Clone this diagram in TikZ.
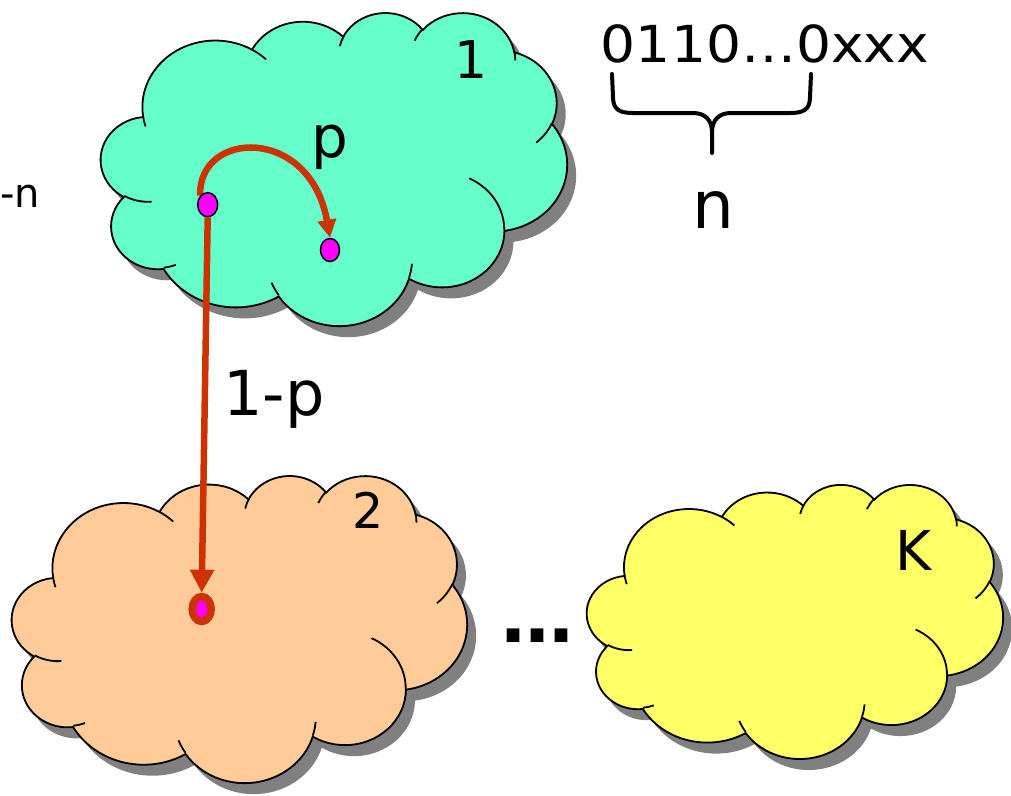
\documentclass[tikz,border=0pt]{standalone}
\usepackage{fontspec}
\setmainfont{DejaVu Sans}
\usetikzlibrary{arrows.meta, shapes.geometric}
\definecolor{cloudA}{HTML}{66FFCC}
\definecolor{cloudB}{HTML}{FFCC99}
\definecolor{cloudC}{HTML}{FFFF66}
\definecolor{shadowc}{HTML}{808080}
\definecolor{arrowc}{HTML}{CC3300}
\definecolor{magentac}{HTML}{FF00FF}
\pgfdeclarelayer{cloudlayer}
\pgfdeclarelayer{arrowlayer}
\pgfsetlayers{cloudlayer,arrowlayer,main}
\newcommand\cloudoutline{(39.00,143.70) arc(-187.75:-59.64:67.53 and 91.90) arc(-152.02:-45.45:53.33 and 72.67) arc(-153.48:-37.33:43.65 and 59.45) arc(-139.69:-10.21:48.57 and 65.95) arc(-74.77:23.21:53.33 and 72.73) arc(-37.52:81.86:67.75 and 92.20) arc(0.46:121.98:57.85 and 78.67) arc(16.85:146.24:67.52 and 92.15) arc(58.99:150.20:77.20 and 105.43) arc(-276.69:-136.90:43.60 and 59.18) arc(-239.64:-95.89:43.45 and 59.45) -- cycle}
\newcommand\cloudstrokes{(46.93,261.77) arc(85.55:120.36:43.45 and 59.45) (69.28,348.99) arc(68.24:83.31:43.60 and 59.18) (164.78,390.90) arc(146.24:158.47:67.52 and 92.15) (288.27,347.51) arc(4.74:16.85:67.52 and 92.15) (341.29,229.54) arc(-64.03:0.46:57.85 and 78.67) (417.98,153.54) arc(23.21:49.63:53.33 and 72.73) (383.24,54.26) arc(-10.21:0.82:48.57 and 65.95) (290.78,39.52) arc(-156.28:-139.69:48.57 and 65.95) (221.41,47.20) arc(-167.73:-153.48:43.65 and 59.45) (140.00,51.92) arc(-59.64:-45.74:67.53 and 91.90) (41.27,157.89) arc(163.19:172.25:67.53 and 91.90)}
\newcommand\drawcloud[5]{%
  \begin{scope}[shift={(#1,#2)}, x=#3pt, y=-#4pt]
    \fill[shadowc, xshift=9pt, yshift=-11pt] \cloudoutline;
    \filldraw[fill=#5, cloudline] \cloudoutline;
    \draw[cloudline] \cloudstrokes;
  \end{scope}}
\begin{document}
\begin{tikzpicture}[x=1pt, y=-1pt,
  cloudline/.style={draw=black, line width=1.8pt},
  lbl/.style={inner sep=0pt, outer sep=0pt, anchor=base},
  dotstyle/.style={ellipse, draw=black, fill=magentac, line width=1.5pt, inner sep=0pt},
  flow/.style={draw=arrowc, line width=6.5pt}]
\useasboundingbox (0,0) rectangle (1011,795);
\begin{pgfonlayer}{cloudlayer}
  \drawcloud{101}{12}{1.07870}{0.72454}{cloudA}
  \drawcloud{12}{475}{1.05324}{0.71065}{cloudB}
  \drawcloud{587}{484}{0.96296}{0.63426}{cloudC}
\end{pgfonlayer}
% dots
\node[dotstyle, minimum width=20pt, minimum height=24pt] (dota) at (207.7,204.7) {};
\node[dotstyle, minimum width=19pt, minimum height=23pt] (dotb) at (330,250) {};
\node[ellipse, draw=arrowc, fill=magentac, line width=7.5pt, inner sep=0pt, minimum width=19pt, minimum height=25pt] (dotc) at (201.7,609) {};
% arrows
\begin{pgfonlayer}{arrowlayer}
  \draw[flow, -{Triangle[length=18pt,width=18pt]}] (dota.130) .. controls (198,130) and (310,125) .. (dotb.north);
  \draw[flow, -{Triangle[length=23pt,width=23pt]}] (dota.south) -- (dotc.north);
\end{pgfonlayer}
% labels
\node[lbl, font=\fontsize{51}{51}\selectfont, xscale=1.08] (bits) at (765,62) {0110…0xxx};
\node[lbl, font=\fontsize{66}{66}\selectfont] (nlbl) at (713,228) {n};
\node[lbl, font=\fontsize{58}{58}\selectfont] (plbl) at (330,157) {p};
\node[lbl, font=\fontsize{62}{62}\selectfont] (qlbl) at (274,415) {1-p};
\node[lbl, font=\fontsize{52}{52}\selectfont] (one) at (471,78) {1};
\node[lbl, font=\fontsize{49}{49}\selectfont] (two) at (368,528) {2};
\node[lbl, font=\fontsize{55}{55}\selectfont] (kk) at (914,570) {K};
\node[lbl, anchor=base west, font=\fontsize{40}{40}\selectfont] (negn) at (0.5,207) {-n};
\node[lbl, font=\bfseries\fontsize{72}{72}\selectfont] (dots) at (537,642) {…};
% brace
\draw[line width=4pt, line cap=round, line join=round] (612,74) -- (613,97) .. controls (613,110) and (620,113) .. (633,113) -- (693,113) .. controls (705,113) and (712,120) .. (712,132) -- (712,153);
\draw[line width=4pt, line cap=round, line join=round] (811,74) -- (810,97) .. controls (810,110) and (803,113) .. (790,113) -- (731,113) .. controls (719,113) and (712,120) .. (712,132);
\end{tikzpicture}
\end{document}
